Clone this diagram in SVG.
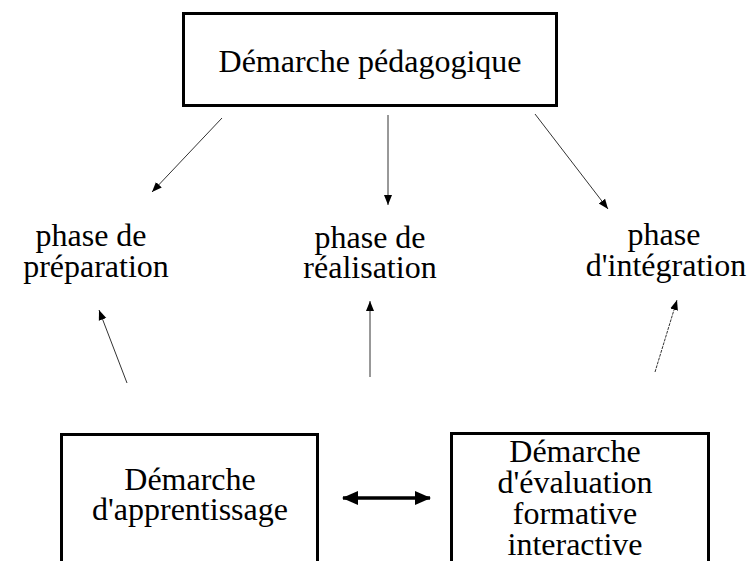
<svg xmlns="http://www.w3.org/2000/svg" width="751" height="561" viewBox="0 0 751 561">
<style>
  .box { fill: #fff; stroke: #000; stroke-width: 3; }
  .lbl { font-family: "Liberation Serif", "Times New Roman", serif; font-size: 32px; fill: #000; text-anchor: middle; }
  .thin { stroke: #333; stroke-width: 1; fill: none; marker-end: url(#ah); }
  .thick { stroke: #000; stroke-width: 3.5; fill: none; marker-start: url(#bh); marker-end: url(#bh); }
</style>
<defs>
  <marker id="ah" markerUnits="userSpaceOnUse" markerWidth="10" markerHeight="10" viewBox="0 0 10 10" refX="10" refY="5" orient="auto">
    <path d="M0,1 L10,5 L0,9 Z" fill="#000"/>
  </marker>
  <marker id="bh" markerUnits="userSpaceOnUse" markerWidth="16" markerHeight="16" viewBox="0 0 16 16" refX="15" refY="8" orient="auto-start-reverse">
    <path d="M0,1 L16,8 L0,15 Z" fill="#000"/>
  </marker>
</defs>
<rect width="751" height="561" fill="#fff"/>
<g id="demarche-pedagogique">
  <rect class="box" x="183.5" y="13.5" width="373" height="92"/>
  <text class="lbl" x="370" y="72">Démarche pédagogique</text>
</g>
<g id="phase-preparation">
  <text class="lbl" x="91" y="246">phase de</text>
  <text class="lbl" x="96" y="277">préparation</text>
</g>
<g id="phase-realisation">
  <text class="lbl" x="370" y="248">phase de</text>
  <text class="lbl" x="370" y="278">réalisation</text>
</g>
<g id="phase-integration">
  <text class="lbl" x="664" y="245">phase</text>
  <text class="lbl" x="666" y="276">d'intégration</text>
</g>
<g id="demarche-apprentissage">
  <rect class="box" x="61.5" y="434.5" width="256" height="140"/>
  <text class="lbl" x="190" y="490">Démarche</text>
  <text class="lbl" x="190" y="520">d'apprentissage</text>
</g>
<g id="demarche-evaluation">
  <rect class="box" x="451.5" y="433.5" width="257" height="140"/>
  <text class="lbl" x="575" y="462">Démarche</text>
  <text class="lbl" x="575" y="493">d'évaluation</text>
  <text class="lbl" x="575" y="524">formative</text>
  <text class="lbl" x="575" y="555">interactive</text>
</g>
<g id="connectors">
  <line class="thin" x1="222" y1="118" x2="152" y2="192"/>
  <line class="thin" x1="388" y1="115" x2="388" y2="205"/>
  <line class="thin" x1="535" y1="114" x2="608" y2="209"/>
  <line class="thin" x1="127" y1="383" x2="99" y2="310"/>
  <line class="thin" x1="370" y1="377" x2="370" y2="301"/>
  <line class="thin" x1="655" y1="372" x2="677" y2="300" stroke-dasharray="3,1"/>
  <line class="thick" x1="343" y1="498" x2="430" y2="498"/>
</g>
</svg>
